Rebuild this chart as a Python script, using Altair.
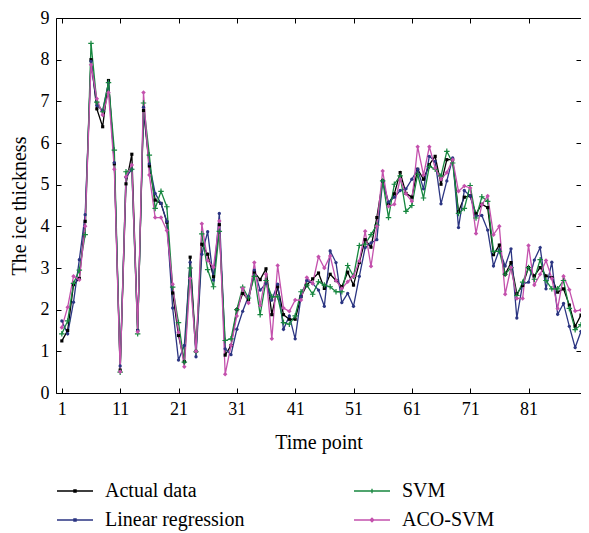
import altair as alt
import pandas as pd

# ---------------- data ----------------
time_points = list(range(1, 91))

actual = [1.25, 1.5, 2.6, 2.75, 4.12, 8.0, 6.82, 6.39, 7.5, 5.5,
          0.55, 5.02, 5.73, 1.5, 6.78, 5.45, 4.63, 4.55, 4.1, 2.4,
          1.38, 0.75, 3.26, 1.0, 3.57, 3.33, 2.79, 4.04, 0.91, 1.14,
          2.0, 2.39, 2.24, 2.9, 2.72, 2.98, 1.88, 2.55, 1.88, 1.77,
          1.77, 2.31, 2.59, 2.74, 2.88, 2.51, 2.85, 2.7, 2.55, 2.9,
          2.59, 3.13, 3.68, 3.5, 4.21, 5.09, 4.54, 4.78, 5.29, 4.79,
          4.7, 5.37, 5.13, 5.48, 5.68, 5.01, 5.6, 5.6, 4.35, 4.7,
          4.73, 4.3, 4.53, 4.45, 3.32, 3.55, 2.85, 3.13, 2.38, 2.58,
          3.01, 2.81, 3.01, 2.81, 2.77, 2.42, 2.5, 2.11, 1.6, 1.87]

linear = [1.73, 1.42, 2.18, 3.2, 4.28, 7.96, 6.9, 6.78, 7.45, 5.53,
          0.65, 5.18, 5.37, 1.5, 6.86, 5.5, 4.79, 4.55, 4.12, 2.04,
          0.79, 1.14, 3.14, 0.87, 3.33, 3.87, 2.71, 4.31, 1.06, 0.92,
          1.53, 1.96, 2.32, 2.95, 2.47, 2.63, 2.23, 2.61, 1.53, 1.85,
          1.3, 2.31, 2.7, 2.63, 2.47, 2.08, 3.41, 3.13, 2.17, 2.39,
          2.08, 2.8, 3.49, 3.6, 3.68, 5.09, 4.58, 4.7, 4.86, 4.9,
          5.13, 5.37, 4.9, 5.68, 5.56, 4.54, 5.09, 5.64, 3.97, 4.86,
          4.73, 4.25, 4.26, 3.91, 3.05, 3.44, 3.05, 3.46, 1.8, 2.62,
          2.66, 3.19, 3.49, 2.5, 3.14, 1.89, 2.15, 1.6, 1.09, 1.48]

svm = [1.42, 1.73, 2.63, 2.95, 3.8, 8.39, 6.98, 6.75, 7.45, 5.83,
       0.5, 5.31, 5.37, 1.42, 6.96, 5.71, 4.43, 4.84, 4.47, 2.54,
       1.69, 0.74, 3.0, 0.99, 3.82, 2.96, 2.55, 3.88, 1.26, 1.3,
       2.0, 2.54, 2.28, 2.8, 1.88, 2.7, 2.31, 2.31, 1.69, 1.65,
       1.85, 2.43, 2.59, 2.37, 2.67, 2.59, 2.55, 2.43, 2.43, 3.06,
       2.8, 3.54, 3.57, 3.8, 4.03, 5.09, 4.21, 5.01, 5.21, 4.36,
       4.5, 5.25, 4.68, 5.44, 5.37, 5.21, 5.8, 5.52, 4.31, 4.43,
       4.98, 4.2, 4.71, 4.6, 3.4, 3.4, 2.85, 3.01, 2.34, 2.66,
       3.01, 2.73, 3.2, 2.7, 2.5, 2.5, 2.7, 2.03, 1.52, 1.64]

aco_svm = [1.57, 2.06, 2.8, 2.72, 4.0, 7.88, 7.06, 6.67, 7.21, 5.37,
           0.51, 5.19, 5.47, 1.47, 7.21, 5.23, 4.21, 4.21, 3.9, 2.61,
           1.46, 0.63, 2.75, 1.0, 4.06, 3.18, 3.02, 4.13, 0.45, 1.14,
           1.85, 2.51, 2.16, 3.13, 2.1, 2.85, 1.3, 3.06, 2.04, 1.96,
           2.23, 2.23, 2.77, 2.63, 3.27, 3.0, 3.29, 2.7, 2.51, 2.67,
           2.8, 3.17, 3.88, 3.04, 4.0, 5.33, 4.48, 4.53, 5.13, 4.78,
           4.6, 5.91, 5.23, 5.91, 5.4, 5.13, 5.29, 5.6, 4.84, 4.97,
           4.92, 3.83, 4.52, 4.73, 3.8, 4.0, 2.37, 3.01, 2.27, 2.27,
           3.54, 2.59, 2.85, 3.18, 2.75, 2.03, 2.8, 2.48, 1.97, 1.99]

series_names = ["Actual data", "Linear regression", "SVM", "ACO-SVM"]
x_ticks = [1, 11, 21, 31, 41, 51, 61, 71, 81]
y_ticks = [0, 1, 2, 3, 4, 5, 6, 7, 8, 9]

# ---------------- styling ----------------
FONT = "Liberation Serif"
W, H = 525, 375
color_map = {"Actual data": "#000000", "Linear regression": "#2b3582",
             "SVM": "#17873f", "ACO-SVM": "#c451ad"}
legend_colors = [color_map[n] for n in series_names]
legend_paths = {
    "Actual data": "M-1,0H1M-0.06,-0.06H0.06V0.06H-0.06Z",
    "Linear regression": "M-1,0H1M-0.06,-0.06H0.06V0.06H-0.06Z",
    "SVM": "M-1,0H1M0,-0.12V0.12",
    "ACO-SVM": "M-1,0H1M-0.1,0L0,-0.1L0.1,0L0,0.1Z",
}

rows = []
for name, vals in zip(series_names, [actual, linear, svm, aco_svm]):
    for t, v in zip(time_points, vals):
        rows.append({"t": t, "v": v, "series": name})
df = pd.DataFrame(rows)

cscale = alt.Scale(domain=series_names, range=legend_colors)
xs = alt.Scale(domain=[0, 90], nice=False, zero=False)
ys = alt.Scale(domain=[0, 9], nice=False)

common = dict(grid=False, labelFont=FONT, titleFont=FONT, labelColor="black",
              titleColor="black", tickColor="black", domainColor="black")

ax_bottom = alt.Axis(values=x_ticks, title="Time point", ticks=False, domain=False,
                     labelFontSize=18, labelPadding=7, titleFontSize=20,
                     titleFontWeight="normal", titlePadding=14, **common)
ax_left = alt.Axis(values=y_ticks, title="The ice thickness", ticks=False, domain=False,
                   labelFontSize=18, labelPadding=7, titleFontSize=20,
                   titleFontWeight="normal", titlePadding=11, **common)
tick_common = dict(labels=False, domain=False, ticks=True, tickSize=5, title=None, **common)
ax_in_bottom = alt.Axis(orient="top", offset=-H, values=x_ticks, **tick_common)
ax_in_left = alt.Axis(orient="right", offset=-W, values=y_ticks, **tick_common)
ax_in_top = alt.Axis(orient="bottom", offset=-H, values=x_ticks, **tick_common)
ax_in_right = alt.Axis(orient="left", offset=-W, values=y_ticks, **tick_common)

leg_spec = alt.Legend(orient="none", legendX=0, legendY=454, columns=2,
                      columnPadding=106, rowPadding=-12, symbolSize=1296,
                      symbolStrokeWidth=1.3, symbolOpacity=1, labelFont=FONT,
                      labelFontSize=20, labelColor="black", labelOffset=11,
                      labelLimit=300, title=None)

base = alt.Chart(df)
color_enc = alt.Color("series:N", scale=cscale, legend=leg_spec)

lines = base.mark_line(strokeWidth=1.3).encode(
    x=alt.X("t:Q", scale=xs, axis=ax_bottom),
    y=alt.Y("v:Q", scale=ys, axis=ax_left),
    color=color_enc,
)


def pts(name, xaxis, yaxis, **mk):
    return base.transform_filter(alt.datum.series == name).mark_point(**mk).encode(
        x=alt.X("t:Q", scale=xs, axis=xaxis),
        y=alt.Y("v:Q", scale=ys, axis=yaxis),
        color=color_enc,
    )


p_act = pts("Actual data", None, None, shape="square", size=10, filled=True, opacity=1)
p_lin = pts("Linear regression", None, None, shape="circle", size=11, filled=True, opacity=1)
p_svm = pts("SVM", ax_in_bottom, ax_in_left, shape="M-1,0H1M0,-1V1", size=30,
            filled=False, strokeWidth=1.2, opacity=1)
p_aco = pts("ACO-SVM", ax_in_top, ax_in_right, shape="diamond", size=20, filled=True, opacity=1)

legend_layer = base.mark_point(filled=False, strokeWidth=1.3, opacity=0).encode(
    color=color_enc,
    shape=alt.Shape("series:N", scale=alt.Scale(domain=series_names,
                                                range=[legend_paths[n] for n in series_names]),
                    legend=leg_spec),
)

chart = alt.layer(lines, p_act, p_lin, p_svm, p_aco, legend_layer).resolve_axis(
    x="independent", y="independent"
).properties(
    width=W, height=H,
    autosize=alt.AutoSizeParams(type="none"),
    padding={"left": 48, "top": 10, "right": 0, "bottom": 140},
    background="white",
).configure_view(stroke="black", strokeWidth=1)

chart.save("out.html", embed_options={"renderer": "svg", "actions": False})
